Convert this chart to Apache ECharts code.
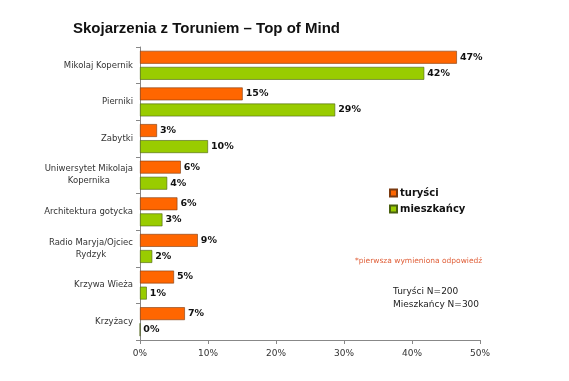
<!DOCTYPE html>
<html>
<head>
<meta charset="utf-8">
<script src="https://cdn.jsdelivr.net/npm/echarts@6/dist/echarts.min.js"></script>
<style>
html,body{margin:0;padding:0;background:#fff;}
#chart{width:569px;height:381px;}
</style>
</head>
<body>
<div id="chart"></div>
<script>
var categories = ['Mikolaj Kopernik', 'Pierniki', 'Zabytki', 'Uniwersytet Mikolaja\nKopernika', 'Architektura gotycka', 'Radio Maryja/Ojciec\nRydzyk', 'Krzywa Wieża', 'Krzyżacy'];
var turysci = [46.6, 15.1, 2.5, 6.0, 5.5, 8.5, 5.0, 6.6];
var mieszkancy = [41.8, 28.7, 10.0, 4.0, 3.3, 1.8, 1.0, 0.0];
var xTicks = [0, 10, 20, 30, 40, 50];

var chart = echarts.init(document.getElementById('chart'));
var labelFont = 'DejaVu Sans';
chart.setOption({
  animation: false,
  backgroundColor: '#fff',
  title: {
    text: 'Skojarzenia z Toruniem – Top of Mind',
    left: 68, top: 16,
    textStyle: {fontFamily: 'Liberation Sans', fontWeight: 'bold', fontSize: 15, color: '#111'}
  },
  legend: {
    orient: 'vertical', left: 384, top: 183,
    icon: 'rect', itemWidth: 7, itemHeight: 7, itemGap: 6,
    textStyle: {fontFamily: labelFont, fontWeight: 'bold', fontSize: 10, color: '#111', padding: [0,0,0,-2]},
    data: ['turyści', 'mieszkańcy']
  },
  grid: {left: 140, right: 89, top: 47, bottom: 41, containLabel: false},
  xAxis: {
    type: 'value', min: 0, max: 50, interval: 10,
    axisLine: {show: true, lineStyle: {color: '#888'}},
    axisTick: {show: true, length: 4, lineStyle: {color: '#888'}},
    splitLine: {show: false},
    axisLabel: {fontFamily: labelFont, fontSize: 9, color: '#333', margin: 9,
      formatter: function (v) { return xTicks.indexOf(v) >= 0 ? v + '%' : ''; }}
  },
  yAxis: {
    type: 'category', inverse: true, data: categories,
    axisLine: {show: true, lineStyle: {color: '#888'}},
    axisTick: {show: true, length: 4, lineStyle: {color: '#888'}},
    axisLabel: {
      margin: 7, color: '#333',
      formatter: function (v) {
        return v.split('\n').map(function (s) { return '{c|' + s + '}'; }).join('\n');
      },
      rich: {c: {fontFamily: labelFont, fontSize: 8.5, color: '#333', align: 'center', lineHeight: 12}}
    }
  },
  series: [
    {
      name: 'turyści', type: 'bar', data: turysci,
      barGap: '25%', barCategoryGap: '21%',
      itemStyle: {color: '#FF6600', borderColor: '#7a3a10', borderWidth: 0.6},
      label: {show: true, position: 'right', distance: 3, fontFamily: labelFont, fontWeight: 'bold', fontSize: 9.5, color: '#111',
        formatter: function (p) { return Math.round(p.value) + '%'; }}
    },
    {
      name: 'mieszkańcy', type: 'bar', data: mieszkancy,
      itemStyle: {color: '#99CC00', borderColor: '#4a6010', borderWidth: 0.6},
      label: {show: true, position: 'right', distance: 3, fontFamily: labelFont, fontWeight: 'bold', fontSize: 9.5, color: '#111',
        formatter: function (p) { return Math.round(p.value) + '%'; }}
    }
  ],
  graphic: [
    {type: 'text', left: 355, top: 257, style: {text: '*pierwsza wymieniona odpowiedź', fontFamily: labelFont, fontSize: 7.5, fill: '#E0603A'}},
    {type: 'text', left: 393, top: 285, style: {text: 'Turyści N=200\nMieszkańcy N=300', fontFamily: labelFont, fontSize: 9, lineHeight: 13, fill: '#222'}}
  ]
});
</script>
</body>
</html>
